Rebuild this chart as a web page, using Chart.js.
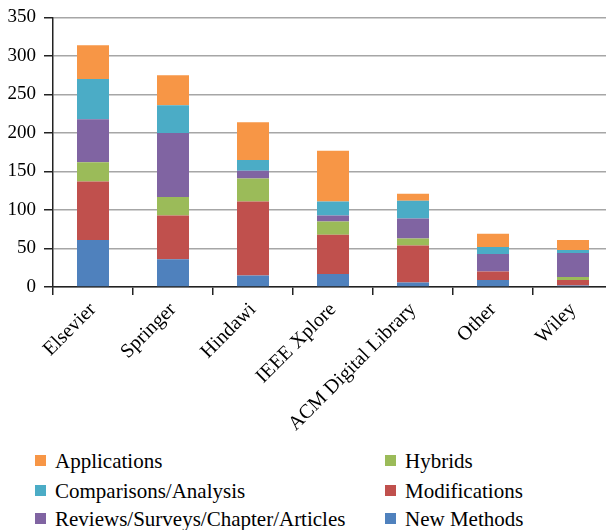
<!DOCTYPE html>
<html>
<head>
<meta charset="utf-8">
<script src="https://cdn.jsdelivr.net/npm/chart.js@4"></script>
<style>
  html, body { margin: 0; padding: 0; background: #fff; overflow: hidden; }
  #wrap { position: relative; width: 620px; height: 530px; }
  #box { position: absolute; left: 0; top: 0; width: 620px; height: 448px; }
  #legend { position: absolute; left: 0; top: 448px; width: 606px; height: 82px;
            font-family: "Liberation Serif", "Times New Roman", serif; font-size: 21px; color: #000; }
  .item { position: absolute; white-space: nowrap; line-height: 24px; height: 24px; }
  .item span.sq { position: absolute; left: 0; top: 6px; width: 11px; height: 11px; }
  .item span.tx { position: absolute; left: 20px; top: 0; }
</style>
</head>
<body>
<div id="wrap">
  <div id="box"><canvas id="myChart"></canvas></div>
  <div id="legend"></div>
</div>
<script>
var publishers = ['Elsevier', 'Springer', 'Hindawi', 'IEEE Xplore', 'ACM Digital Library', 'Other', 'Wiley'];
var newMethods = [61, 36, 15, 17, 6, 9, 2];
var modifications = [76, 57, 96, 51, 48, 11, 7];
var hybrids = [25, 24, 30, 17, 9, 0, 4];
var reviews = [56, 83, 10, 8, 26, 23, 31];
var comparisons = [52, 36, 14, 18, 23, 9, 4];
var applications = [44, 39, 49, 66, 9, 17, 13];
var yTicks = [0, 50, 100, 150, 200, 250, 300, 350];

var serif = '"Liberation Serif", "Times New Roman", serif';

var ctx = document.getElementById('myChart').getContext('2d');
var chart = new Chart(ctx, {
    type: 'bar',
    data: {
        labels: publishers,
        datasets: [
            { label: 'New Methods', data: newMethods, backgroundColor: '#4F81BD' },
            { label: 'Modifications', data: modifications, backgroundColor: '#C0504D' },
            { label: 'Hybrids', data: hybrids, backgroundColor: '#9BBB59' },
            { label: 'Reviews/Surveys/Chapter/Articles', data: reviews, backgroundColor: '#8064A2' },
            { label: 'Comparisons/Analysis', data: comparisons, backgroundColor: '#4BACC6' },
            { label: 'Applications', data: applications, backgroundColor: '#F79646' }
        ]
    },
    options: {
        responsive: true,
        maintainAspectRatio: false,
        animation: false,
        layout: { padding: { top: 14.5, right: 7, left: 0, bottom: 0 } },
        datasets: { bar: { categoryPercentage: 1, barPercentage: 0.4, borderWidth: 0 } },
        plugins: { legend: { display: false }, tooltip: { enabled: false } },
        scales: {
            x: {
                stacked: true,
                grid: { drawOnChartArea: false, drawTicks: true, tickLength: 8, tickColor: '#222', lineWidth: 1.5 },
                border: { color: '#222', width: 1.5 },
                ticks: { minRotation: 45, maxRotation: 45, color: '#000', padding: 3,
                         font: { family: serif, size: 20 } },
                afterFit: function (scale) { scale.height = 448 - 287; }
            },
            y: {
                stacked: true,
                min: 0,
                max: 350,
                afterBuildTicks: function (scale) { scale.ticks = yTicks.map(function (v) { return { value: v }; }); },
                grid: { color: '#a6a6a6', lineWidth: 1.5, drawTicks: true, tickLength: 9, tickColor: '#222' },
                border: { color: '#222', width: 1.5 },
                ticks: { color: '#000', padding: 8, font: { family: serif, size: 19, lineHeight: 1 } },
                afterFit: function (scale) { scale.width = 53; }
            }
        }
    }
});

// two-column legend, same order as the reference
var order = [
    ['Applications', 'Hybrids'],
    ['Comparisons/Analysis', 'Modifications'],
    ['Reviews/Surveys/Chapter/Articles', 'New Methods']
];
var colX = [35, 385];
var rowY = [1, 31, 59];
var legend = document.getElementById('legend');
order.forEach(function (row, r) {
    row.forEach(function (name, c) {
        var ds = chart.data.datasets.find(function (d) { return d.label === name; });
        var el = document.createElement('div');
        el.className = 'item';
        el.style.left = colX[c] + 'px';
        el.style.top = rowY[r] + 'px';
        el.innerHTML = '<span class="sq" style="background:' + ds.backgroundColor + '"></span><span class="tx"></span>';
        el.querySelector('.tx').textContent = ds.label;
        legend.appendChild(el);
    });
});
</script>
</body>
</html>
